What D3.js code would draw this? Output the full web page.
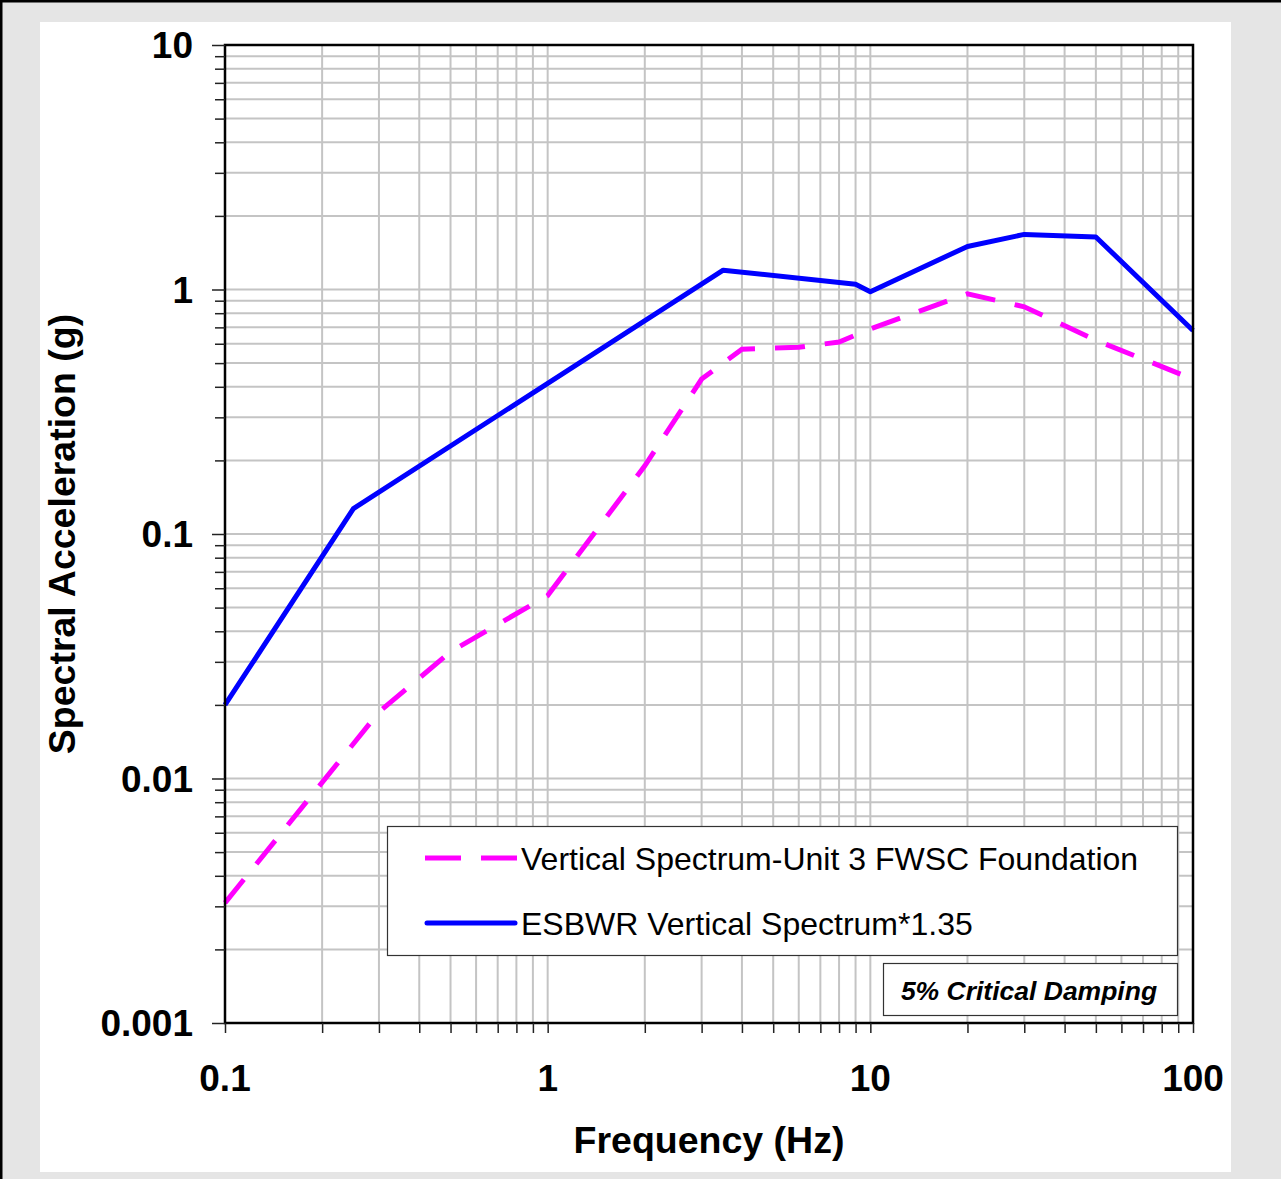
<!DOCTYPE html>
<html>
<head>
<meta charset="utf-8">
<script src="https://cdn.jsdelivr.net/npm/d3@7"></script>
<style>
  body { margin: 0; background: #fff; }
  svg { display: block; font-family: "Liberation Sans", Arial, sans-serif; }
</style>
</head>
<body>
<svg id="chart" width="1281" height="1179"></svg>
<script>
// data
var freqSite = [0.1, 0.3, 0.5, 1, 2, 3, 4, 6, 8, 10, 20, 30, 50, 100];
var accSite  = [0.0031, 0.0187, 0.033, 0.056, 0.19, 0.43, 0.57, 0.58, 0.61, 0.69, 0.96, 0.85, 0.62, 0.43];
var freqEsbwr = [0.1, 0.25, 3.5, 9, 10, 20, 30, 50, 100];
var accEsbwr  = [0.02, 0.127, 1.2, 1.05, 0.98, 1.5, 1.68, 1.64, 0.68];
var xTickLabels = ["0.1", "1", "10", "100"];
var yTickLabels = ["0.001", "0.01", "0.1", "1", "10"];
var seriesNames = ["Vertical Spectrum-Unit 3 FWSC Foundation", "ESBWR Vertical Spectrum*1.35"];

var svg = d3.select("#chart");

// outer frame
svg.append("rect").attr("width", 1281).attr("height", 1179).attr("fill", "#e5e5e5");
svg.append("rect").attr("x", 40).attr("y", 22).attr("width", 1191).attr("height", 1150).attr("fill", "#fff");
svg.append("line").attr("x1", 0).attr("x2", 1281).attr("y1", 1).attr("y2", 1).attr("stroke", "#000").attr("stroke-width", 3);
svg.append("line").attr("x1", 1).attr("x2", 1).attr("y1", 0).attr("y2", 1179).attr("stroke", "#000").attr("stroke-width", 3);

var x = d3.scaleLog().domain([0.1, 100]).range([225, 1193]);
var y = d3.scaleLog().domain([0.001, 10]).range([1023, 45]);

var xt = x.ticks();
var yt = y.ticks();

// grid
var grid = svg.append("g").attr("stroke", "#c4c4c4").attr("stroke-width", 2);
grid.selectAll(".vg").data(xt).enter().append("line")
  .attr("x1", function (d) { return x(d); }).attr("x2", function (d) { return x(d); })
  .attr("y1", 45).attr("y2", 1023);
grid.selectAll(".hg").data(yt).enter().append("line")
  .attr("y1", function (d) { return y(d); }).attr("y2", function (d) { return y(d); })
  .attr("x1", 225).attr("x2", 1193);

// series
var line = d3.line()
  .x(function (d) { return x(d[0]); })
  .y(function (d) { return y(d[1]); });

var siteData = freqSite.map(function (f, i) { return [f, accSite[i]]; });
var esbwrData = freqEsbwr.map(function (f, i) { return [f, accEsbwr[i]]; });

svg.append("path").datum(siteData)
  .attr("d", line)
  .attr("fill", "none")
  .attr("stroke", "#ff00ff")
  .attr("stroke-width", 5)
  .attr("stroke-dasharray", "30,20");

svg.append("path").datum(esbwrData)
  .attr("d", line)
  .attr("fill", "none")
  .attr("stroke", "#0000ff")
  .attr("stroke-width", 5)
  .attr("stroke-linejoin", "round");

// legend
var legend = svg.append("g");
legend.append("rect")
  .attr("x", 387.5).attr("y", 826.5).attr("width", 790).attr("height", 129)
  .attr("fill", "#fff").attr("stroke", "#333").attr("stroke-width", 1.2);
legend.append("line")
  .attr("x1", 425).attr("x2", 517).attr("y1", 858).attr("y2", 858)
  .attr("stroke", "#ff00ff").attr("stroke-width", 5).attr("stroke-dasharray", "36,20");
legend.append("line")
  .attr("x1", 427).attr("x2", 515).attr("y1", 923).attr("y2", 923)
  .attr("stroke", "#0000ff").attr("stroke-width", 5).attr("stroke-linecap", "round");
legend.selectAll(".lt").data(seriesNames).enter().append("text")
  .attr("x", 521)
  .attr("y", function (d, i) { return 870 + i * 65; })
  .attr("font-size", 32)
  .attr("fill", "#000")
  .text(function (d) { return d; });

// damping note
svg.append("rect")
  .attr("x", 883.5).attr("y", 963.5).attr("width", 294).attr("height", 52)
  .attr("fill", "#fff").attr("stroke", "#333").attr("stroke-width", 1.2);
svg.append("text")
  .attr("x", 1029).attr("y", 1000)
  .attr("text-anchor", "middle")
  .attr("font-size", 26.5).attr("font-weight", "bold").attr("font-style", "italic")
  .text("5% Critical Damping");

// plot border
svg.append("rect")
  .attr("x", 225).attr("y", 45).attr("width", 968).attr("height", 978)
  .attr("fill", "none").attr("stroke", "#000").attr("stroke-width", 2.5);

// axes
function isMajor(d) { return Math.abs(Math.log10(d) - Math.round(Math.log10(d))) < 1e-9; }

var yAxis = svg.append("g").attr("transform", "translate(225,0)")
  .call(d3.axisLeft(y).tickValues(yt).tickSize(10).tickFormat(""));
yAxis.select(".domain").remove();
yAxis.selectAll(".tick line").attr("stroke", "#222").attr("stroke-width", 1.5)
  .attr("x2", function (d) { return isMajor(d) ? -13 : -10; });

var xAxis = svg.append("g").attr("transform", "translate(0,1023)")
  .call(d3.axisBottom(x).tickValues(xt).tickSize(10).tickFormat(""));
xAxis.select(".domain").remove();
xAxis.selectAll(".tick line").attr("stroke", "#222").attr("stroke-width", 1.5);

// tick labels
var yMajor = yt.filter(isMajor);
svg.selectAll(".yl").data(yMajor).enter().append("text")
  .attr("x", 193)
  .attr("y", function (d) { return y(d); })
  .attr("dy", "0.36em")
  .attr("text-anchor", "end")
  .attr("font-size", 37).attr("font-weight", "bold")
  .text(function (d, i) { return yTickLabels[i]; });

var xMajor = xt.filter(isMajor);
svg.selectAll(".xl").data(xMajor).enter().append("text")
  .attr("x", function (d) { return x(d); })
  .attr("y", 1091)
  .attr("text-anchor", "middle")
  .attr("font-size", 37).attr("font-weight", "bold")
  .text(function (d, i) { return xTickLabels[i]; });

// axis titles
svg.append("text")
  .attr("x", 709).attr("y", 1153)
  .attr("text-anchor", "middle")
  .attr("font-size", 37.5).attr("font-weight", "bold")
  .text("Frequency (Hz)");

svg.append("text")
  .attr("transform", "translate(75,534) rotate(-90)")
  .attr("text-anchor", "middle")
  .attr("font-size", 37.5).attr("font-weight", "bold")
  .text("Spectral Acceleration (g)");
</script>
</body>
</html>
